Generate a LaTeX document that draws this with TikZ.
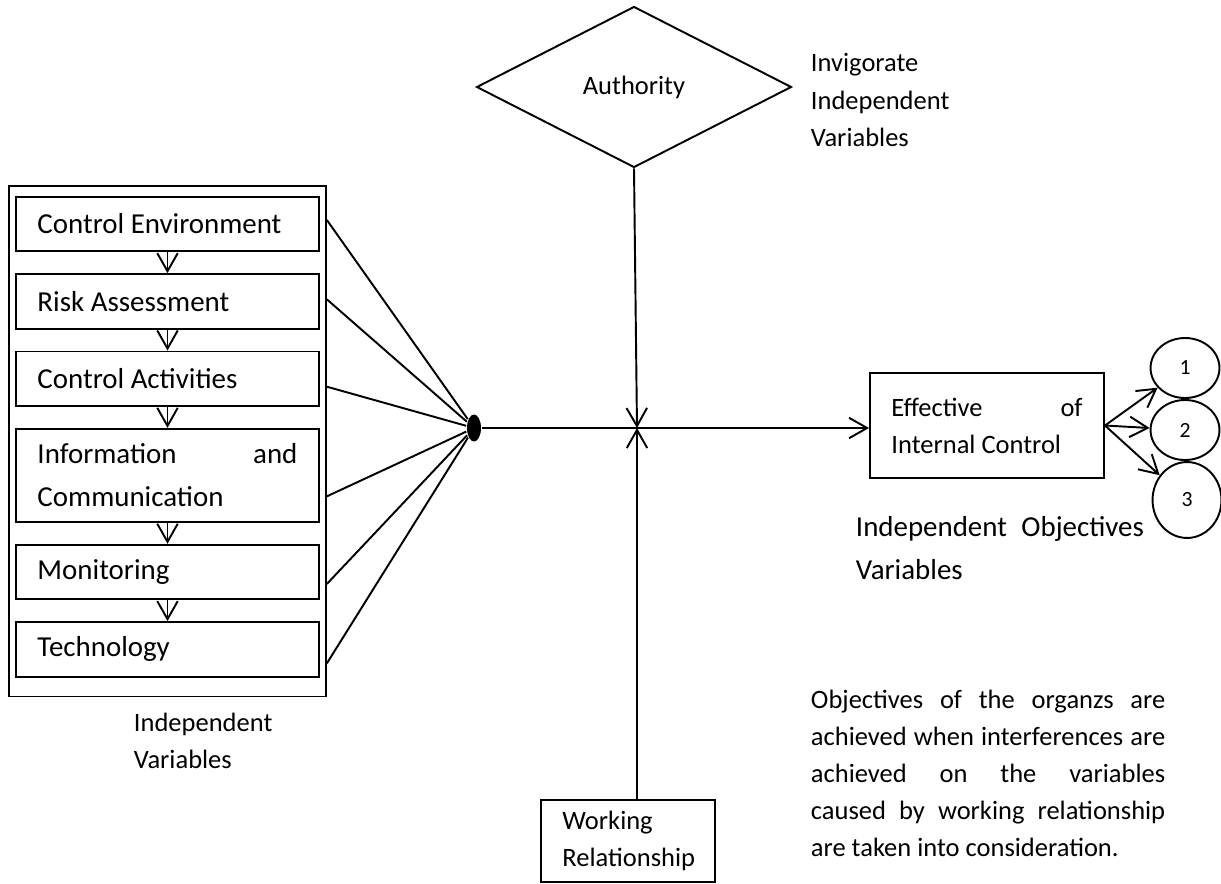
\documentclass[tikz,border=0pt]{standalone}
\usepackage{fontspec}
\setmainfont{Carlito}
\usetikzlibrary{positioning,shapes.geometric,arrows.meta,calc,fit}

\begin{document}
\begin{tikzpicture}[
  x=0.415pt,y=-0.415pt,
  line width=0.8pt,
  flow/.style={-{Straight Barb[length=7.5pt,width=8.5pt]}},
  parts/.style={rectangle,draw,minimum width=125.7pt,minimum height=#1,inner xsep=8.7pt,text width=107.9pt,align=justify,font=\fontsize{12}{17.8}\selectfont},
  parts/.default=22.6pt,
  notes/.style={inner sep=0pt,align=left,font=\fontsize{11}{15.4}\selectfont},
  goals/.style={ellipse,draw,inner sep=0pt,minimum width=28.6pt,minimum height=#1,font=\fontsize{9}{10}\selectfont},
  node distance=8.7pt,
]
\useasboundingbox (0,0) rectangle (1221,883);

% components of internal control
\node (ce) [parts] at (167.5,224) {Control Environment};
\node (ra) [parts,below=of ce] {Risk Assessment};
\node (ca) [parts,below=of ra] {Control Activities};
\node (info) [parts=38.6pt,below=of ca] {Information and\linebreak Communication};
\node (mon) [parts,below=of info] {Monitoring};
\node (tech) [parts,below=of mon] {Technology};
\foreach \a/\b in {ce/ra,ra/ca,ca/info,info/mon,mon/tech}
  \draw[flow] (\a) -- (\b);
\node (outer) [draw,inner sep=0pt,fit={($(ce.north west)+(-6,-10)$) ($(tech.south east)+(6,19)$)}] {};
\node (ivar) [notes,anchor=west] at (133,741) {Independent\\Variables};

% joining point
\node (hub) [ellipse,fill,inner sep=0pt,minimum width=5.8pt,minimum height=11.2pt] at (474,428) {};
\foreach \b/\d in {ce/-4,ra/-2,ca/8,info/21,mon/12,tech/14}
  \draw (outer.east |- \b) ++(0,\d) -- (hub);
\coordinate (cross) at (637,428);
\draw (hub) -- (cross);

% moderating variables
\node (auth) [diamond,draw,inner sep=0pt,minimum width=130.7pt,minimum height=66.8pt,font=\fontsize{11}{15.4}\selectfont] at (634,87) {Authority};
\node (inv) [notes,anchor=west] at (810,100) {Invigorate\\Independent\\Variables};
\draw[flow] (auth.south) -- (cross);

\node (wr) [draw,minimum width=72.2pt,minimum height=34pt,inner xsep=8.7pt,text width=54.4pt,align=left,font=\fontsize{11}{15.4}\selectfont] at (628,841) {Working\\Relationship};
\draw[flow] (wr.north -| cross) -- (cross);

% dependent variable
\node (eff) [draw,minimum width=97.1pt,minimum height=43.6pt,text width=79.3pt,align=justify,font=\fontsize{11}{15.4}\selectfont] at (987,425.5) {Effective of\linebreak Internal Control\par\vspace{5pt}};
\draw[flow] (cross) -- (cross -| eff.west);

\node (g1) [goals=24.9pt] at (1185,368) {1};
\node (g2) [goals=24.9pt] at (1185,430) {2};
\node (g3) [goals=31.5pt] at (1187,500) {3};
\foreach \g in {g1,g2,g3}
  \draw[flow] (eff.east) -- (\g);

\node (iov) [notes,text width=119.5pt,align=justify,anchor=west,font=\fontsize{12}{17.8}\selectfont] at (855,548) {Independent Objectives\linebreak Variables};

\node (obj) [notes,text width=147pt,align=justify,anchor=west] at (810,773.5) {Objectives of the organzs are\linebreak achieved when interferences are\linebreak achieved on the variables\linebreak caused by working relationship\linebreak are taken into consideration.};
\end{tikzpicture}
\end{document}
